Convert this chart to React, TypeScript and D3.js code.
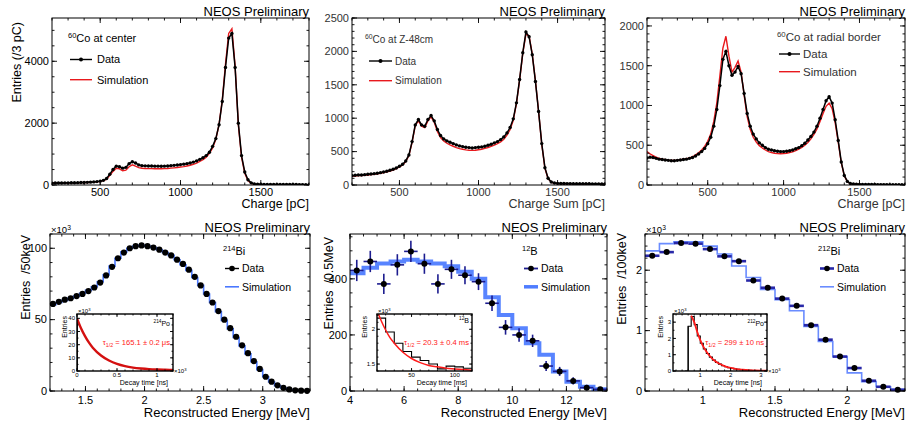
import React from "react";
import * as d3 from "d3";

const FONT = "'Liberation Sans', Arial, Helvetica, sans-serif";

// ---- top row: 60Co charge spectra, entries per 3 pC read every 20 pC
const CHARGE_STEP = 20;

const coCenterData = [
  62, 64, 65, 66, 68, 70, 72, 74, 76, 79, 82, 86, 92, 100, 110, 125,
  150, 210, 350, 500, 610, 590, 545, 570, 690, 750, 710, 650, 625, 620, 615, 615, 610, 610, 605, 610, 615, 625, 635, 645, 660,
  675, 690, 710, 740, 780, 830, 880, 950, 1060, 1250, 1500, 1950, 2700, 3800, 4750, 4900, 3800, 2000, 950, 420, 170, 70, 35, 25, 22,
  20, 19, 18, 18, 17, 16, 16, 15, 15, 14, 14, 13, 13, 12, 12,
];
const coCenterSim = [
  58, 60, 62, 63, 65, 67, 69, 71, 73, 76, 79, 83, 88, 95, 105, 118,
  140, 190, 310, 440, 540, 520, 460, 480, 590, 650, 610, 560, 540, 535, 530, 530, 525, 525, 525, 530, 535, 545, 555, 565, 580,
  595, 615, 640, 670, 710, 760, 820, 900, 1020, 1200, 1480, 1950, 2750, 3900, 4900, 5050, 3850, 1950, 900, 380, 140, 55, 25, 16, 13,
  12, 11, 11, 10, 10, 10, 9, 9, 9, 8, 8, 8, 8, 7, 7,
];
const coZData = [
  140, 145, 150, 150, 155, 160, 165, 170, 175, 185, 195, 205, 220, 235, 255, 280,
  310, 360, 450, 650, 900, 980, 900, 880, 980, 1040, 960, 830, 740, 690, 660, 640, 620, 600, 585, 575, 565, 560, 555, 560, 565,
  570, 580, 595, 610, 630, 650, 680, 720, 780, 860, 990, 1230, 1580, 1980, 2290, 2220, 1950, 1550, 1100, 620, 260, 100, 45, 30, 25,
  23, 22, 21, 21, 20, 20, 19, 19, 18, 18, 17, 17, 16, 16, 15,
];
const coZSim = [
  130, 135, 140, 142, 146, 150, 155, 160, 166, 175, 185, 196, 210, 225, 245, 270,
  300, 350, 440, 640, 890, 960, 880, 860, 960, 1020, 940, 800, 710, 660, 625, 600, 580, 560, 545, 535, 525, 520, 518, 520, 528,
  535, 548, 562, 578, 598, 618, 645, 685, 745, 830, 970, 1220, 1570, 1970, 2260, 2230, 1960, 1560, 1100, 610, 250, 95, 42, 27, 22,
  20, 19, 18, 18, 17, 17, 16, 16, 15, 15, 14, 14, 13, 13, 12,
];
// radial border run starts at 100 pC
const coBorderData = [
  340, 350, 345, 335, 325, 320, 315, 310, 305, 305, 310, 315, 320, 325, 335, 345, 365, 390, 420, 460, 520,
  600, 740, 950, 1250, 1580, 1680, 1500, 1380, 1420, 1490, 1400, 1150, 900, 740, 640, 580, 530, 500, 470, 450, 440, 430, 425, 420, 420,
  425, 430, 440, 455, 470, 495, 525, 565, 610, 665, 740, 840, 950, 1060, 1110, 1030, 820, 560, 290, 120, 45, 20, 12, 9, 8,
  7, 7, 6, 6, 6, 5, 5, 5, 5, 4, 4, 4, 4, 4, 3,
];
const coBorderSim = [
  420, 390, 370, 350, 335, 325, 318, 312, 308, 308, 312, 318, 325, 332, 342, 355, 378, 405, 440, 485, 550,
  640, 800, 1030, 1370, 1720, 1870, 1620, 1420, 1480, 1560, 1420, 1130, 860, 700, 600, 540, 495, 465, 440, 420, 408, 400, 395, 393, 395,
  400, 408, 418, 432, 450, 472, 500, 535, 580, 635, 705, 800, 900, 990, 1030, 960, 780, 540, 280, 115, 42, 18, 10, 7, 6,
  5, 5, 5, 4, 4, 4, 4, 3, 3, 3, 3, 3, 3, 2, 2,
];

// ---- 214Bi prompt spectrum, 50 keV bins from 1.2 MeV (x10^3 entries)
const bi214Data = [
  61, 62.5, 64, 65, 66.5, 68, 70, 72.5, 76, 81, 87, 93, 97, 100, 101.5, 102, 101.5, 100.5, 99, 97, 95, 92,
  89, 85, 80, 74, 68, 62, 56, 50, 44, 38, 32, 26.5, 21, 15.5, 10, 6.5, 4, 2.2, 1.1, 0.5, 0.2, 0.1,
];
const bi214Sim = [
  60.5, 62, 63.5, 65, 66.5, 68.5, 70.5, 73, 76.5, 81.5, 87.5, 93, 97.5, 100, 101.5, 102, 101.5, 100.5, 99, 97, 95, 92,
  88.5, 84.5, 79.5, 74, 68, 62, 55.5, 49.5, 43.5, 37.5, 31.5, 26, 20.5, 15, 10, 6.3, 3.8, 2.1, 1.0, 0.5, 0.2, 0.1,
];
const po214FitT = [0, 0.05, 0.1, 0.15, 0.2, 0.3, 0.4, 0.5, 0.6, 0.7, 0.8, 0.9, 1.0, 1.1, 1.2];
const po214FitV = [40, 32.5, 26.5, 21.5, 17.5, 11.8, 8, 5.4, 3.7, 2.6, 1.9, 1.4, 1.1, 0.9, 0.8];

// ---- 12B spectrum, 0.5 MeV bins from 4 MeV
const b12Data = [430, 462, 382, 450, 498, 454, 382, 434, 413, 390, 313, 227, 200, 179, 89, 70, 36, 12, 6];
const b12Err = [38, 38, 36, 38, 38, 36, 34, 34, 32, 30, 28, 26, 24, 22, 18, 16, 13, 10, 8];
const b12Sim = [420, 440, 455, 462, 468, 462, 455, 445, 425, 400, 334, 271, 224, 170, 129, 70, 33, 15, 6];
const b12Decay = [2.16, 1.96, 1.8, 1.68, 1.6, 1.55, 1.5, 1.43, 1.47, 1.46, 1.44]; // 10 ms bins from 10 ms
const b12FitT = [10, 15, 20, 25, 30, 40, 50, 60, 70, 80, 90, 100, 110, 120];
const b12FitV = [2.27, 2.12, 1.99, 1.88, 1.8, 1.67, 1.58, 1.52, 1.48, 1.46, 1.44, 1.43, 1.42, 1.41];

// ---- 212Bi spectrum, 100 keV bins from 0.6 MeV (x10^3 entries)
const bi212Data = [2.24, 2.3, 2.45, 2.44, 2.35, 2.23, 2.15, 1.83, 1.71, 1.53, 1.41, 1.09, 0.85, 0.57, 0.38, 0.17, 0.07, 0.02];
const bi212Sim = [2.32, 2.44, 2.47, 2.47, 2.4, 2.27, 2.07, 1.88, 1.68, 1.51, 1.33, 1.07, 0.82, 0.57, 0.3, 0.155, 0.07, 0.03];
const po212Hist = [
  0, 2.75, 3.35, 2.85, 2.15, 1.7, 1.35, 1.07, 0.85, 0.67, 0.53, 0.42, 0.33, 0.26, 0.21, 0.17,
  0.13, 0.1, 0.08, 0.06, 0.05, 0.04, 0.03, 0.03, 0.02, 0.02, 0.02,
]; // 0.1 bins from 0.5
const po212FitT = [0.7, 0.8, 0.9, 1.0, 1.1, 1.2, 1.3, 1.4, 1.5, 1.6, 1.8, 2.0, 2.2, 2.4, 2.6, 2.8, 3.0, 3.2];
const po212FitV = [3.4, 3.0, 2.4, 1.9, 1.5, 1.2, 0.95, 0.75, 0.6, 0.47, 0.3, 0.19, 0.12, 0.08, 0.05, 0.03, 0.02, 0.015];

type Lin = d3.ScaleLinear<number, number>;

function ticksIn(d: number[], step: number) {
  const out: number[] = [];
  const k0 = Math.ceil(d[0] / step - 1e-6);
  for (let k = k0; k * step <= d[1] + 1e-6; k++) out.push(+(k * step).toFixed(6));
  return out;
}

function stepPath(x: Lin, y: Lin, e0: number, w: number, vals: number[]) {
  let p = "";
  vals.forEach((v, i) => {
    const xa = x(e0 + i * w), xb = x(e0 + (i + 1) * w), yy = y(v);
    p += `${i === 0 ? "M" : "L"}${xa},${yy}L${xb},${yy}`;
  });
  return p;
}

function Frame({ x, y, xMajor, xMinor, yMajor, yMinor, tick, font, color = "#000", xGap, yGap, fill = "none", border = 1 }: any) {
  const [l, r] = x.range();
  const [b, t] = y.range();
  const xMaj = ticksIn(x.domain(), xMajor), xMin = ticksIn(x.domain(), xMinor);
  const yMaj = ticksIn(y.domain(), yMajor), yMin = ticksIn(y.domain(), yMinor);
  const seg = (k: string, x1: number, y1: number, x2: number, y2: number) => (
    <line key={k} x1={x1} y1={y1} x2={x2} y2={y2} stroke="#000" strokeWidth={0.9} />
  );
  return (
    <g>
      <rect x={l} y={t} width={r - l} height={b - t} fill={fill} stroke="#000" strokeWidth={border} />
      {xMin.map((v) => [seg("xb" + v, x(v), b, x(v), b - tick / 2), seg("xt" + v, x(v), t, x(v), t + tick / 2)])}
      {xMaj.map((v) => [seg("XB" + v, x(v), b, x(v), b - tick), seg("XT" + v, x(v), t, x(v), t + tick)])}
      {yMin.map((v) => [seg("yl" + v, l, y(v), l + tick / 2, y(v)), seg("yr" + v, r, y(v), r - tick / 2, y(v))])}
      {yMaj.map((v) => [seg("YL" + v, l, y(v), l + tick, y(v)), seg("YR" + v, r, y(v), r - tick, y(v))])}
      <g fontSize={font} fill={color}>
        {xMaj.map((v) => (
          <text key={"xl" + v} x={x(v)} y={b + xGap} textAnchor="middle">{String(v)}</text>
        ))}
        {yMaj.map((v) => (
          <text key={"yl" + v} x={l - yGap} y={y(v) + font * 0.35} textAnchor="end">{String(v)}</text>
        ))}
      </g>
    </g>
  );
}

function Sup({ x, y, a, s, f, anchor = "start", fill = "#000" }: any) {
  return (
    <text x={x} y={y} fontSize={f} textAnchor={anchor} fill={fill}>
      <tspan fontSize={f * 0.68} dy={-f * 0.38}>{a}</tspan>
      <tspan dy={f * 0.38}>{s}</tspan>
    </text>
  );
}

function Times({ x, y, f, anchor = "start" }: any) {
  return (
    <text x={x} y={y} fontSize={f} textAnchor={anchor}>
      ×10<tspan fontSize={f * 0.7} dy={-f * 0.35}>3</tspan>
    </text>
  );
}

function Tau({ x, y, f, rest }: any) {
  return (
    <text x={x} y={y} fontSize={f} fill="#ff2020" textAnchor="end">
      τ<tspan fontSize={f * 0.7} dy={f * 0.3}>1/2</tspan>
      <tspan dy={-f * 0.3}>{" = " + rest}</tspan>
    </text>
  );
}

function Title({ right, y }: { right: number; y: number }) {
  return <text x={right} y={y} fontSize={13} textAnchor="end">NEOS Preliminary</text>;
}

function ChargePanel({ id, left, right, x0, yMax, yMajor, yMinor, data, sim, xTitle, color, yTitle, lg }: any) {
  const top = 18, bottom = 185;
  const x = d3.scaleLinear().domain([x0, 1800]).range([left, right]);
  const y = d3.scaleLinear().domain([0, yMax]).range([bottom, top]);
  const line = d3.line<number>().x((_, i) => x(x0 + i * CHARGE_STEP)).y((v) => y(v));
  return (
    <g>
      <Title right={right} y={16} />
      <defs>
        <clipPath id={id}><rect x={left} y={top} width={right - left} height={bottom - top} /></clipPath>
      </defs>
      <g clipPath={`url(#${id})`}>
        <path d={line(sim) || ""} fill="none" stroke="#e8191d" strokeWidth={1.4} />
        <path d={line(data) || ""} fill="none" stroke="#000" strokeWidth={1.5} />
        {data.map((v: number, i: number) => (
          <circle key={i} cx={x(x0 + i * CHARGE_STEP)} cy={y(v)} r={1.7} fill="#000" />
        ))}
      </g>
      <Frame x={x} y={y} xMajor={500} xMinor={100} yMajor={yMajor} yMinor={yMinor} tick={5} font={11} color={color} xGap={11} yGap={3} />
      <text x={right} y={207.5} fontSize={12.5} textAnchor="end" fill={color}>{xTitle}</text>
      {yTitle && (
        <text transform="translate(21,22) rotate(-90)" fontSize={12.5} textAnchor="end">{yTitle}</text>
      )}
      <Sup x={lg.tx0} y={lg.ty} a="60" s={lg.title} f={lg.f} fill={color} />
      <line x1={lg.lx0} x2={lg.lx1} y1={lg.dy} y2={lg.dy} stroke="#000" strokeWidth={1.4} />
      <circle cx={(lg.lx0 + lg.lx1) / 2} cy={lg.dy} r={2} fill="#000" />
      <text x={lg.tx} y={lg.dy + lg.f * 0.36} fontSize={lg.f} fill={color}>Data</text>
      <line x1={lg.lx0} x2={lg.lx1} y1={lg.sy} y2={lg.sy} stroke="#e8191d" strokeWidth={1.4} />
      <text x={lg.tx} y={lg.sy + lg.f * 0.36} fontSize={lg.f} fill={color}>Simulation</text>
    </g>
  );
}

function Inset({ left, right, xd, yd, xMajor, xMinor, yMajor, yMinor, xTimes, xTitle, iso, tau, children }: any) {
  const top = 314, bottom = 371;
  const x = d3.scaleLinear().domain(xd).range([left, right]);
  const y = d3.scaleLinear().domain(yd).range([bottom, top]);
  const id = "clip" + left;
  return (
    <g>
      <rect x={left} y={top} width={right - left} height={bottom - top} fill="#fff" />
      <defs>
        <clipPath id={id}><rect x={left} y={top} width={right - left} height={bottom - top} /></clipPath>
      </defs>
      <g clipPath={`url(#${id})`}>{children(x, y)}</g>
      <Frame x={x} y={y} xMajor={xMajor} xMinor={xMinor} yMajor={yMajor} yMinor={yMinor} tick={3} font={6} xGap={6.3} yGap={2} border={1.4} />
      <Times x={left + 1} y={top - 1} f={6} />
      {xTimes && <Times x={right + 1} y={bottom + 2} f={6} />}
      <text transform={`translate(${left - 10},${top + 2}) rotate(-90)`} fontSize={7} textAnchor="end">Entries</text>
      <text x={right - 5} y={384.5} fontSize={7} textAnchor="end">{xTitle}</text>
      <Sup x={right - 3} y={iso.y} a={iso.a} s={iso.s} f={7} anchor="end" />
      <Tau x={right - 3} y={344.5} f={7.6} rest={tau} />
    </g>
  );
}

function BottomLegend({ iso, x, lineColor, simColor, simW, dataBar }: any) {
  const lx0 = x + 2, lx1 = x + 16, tx = x + 19;
  return (
    <g fontSize={10.5}>
      <Sup x={x} y={255} a={iso.a} s={iso.s} f={11} />
      <line x1={lx0} x2={lx1} y1={268.5} y2={268.5} stroke={lineColor} strokeWidth={dataBar} />
      <circle cx={(lx0 + lx1) / 2} cy={268.5} r={2.8} fill="#000" />
      <text x={tx} y={272.3}>Data</text>
      <line x1={lx0} x2={lx1} y1={286.8} y2={286.8} stroke={simColor} strokeWidth={simW} />
      <text x={tx} y={290.5}>Simulation</text>
    </g>
  );
}

function Bi214Panel() {
  const left = 50, right = 310, top = 234, bottom = 391;
  const x = d3.scaleLinear().domain([1.2, 3.4]).range([left, right]);
  const y = d3.scaleLinear().domain([0, 110]).range([bottom, top]);
  return (
    <g>
      <Title right={310} y={231.5} />
      <path d={stepPath(x, y, 1.2, 0.05, bi214Sim)} fill="none" stroke="#4a78ff" strokeWidth={1.6} />
      {bi214Data.map((v, i) => (
        <circle key={i} cx={x(1.225 + i * 0.05)} cy={y(v)} r={3.1} fill="#000" />
      ))}
      <Inset left={77} right={173} xd={[0, 1.2]} yd={[0, 43.3]} xMajor={0.5} xMinor={0.1} yMajor={10} yMinor={5}
        xTimes xTitle="Decay time [ns]" iso={{ a: "214", s: "Po", y: 326 }} tau="165.1 ± 0.2 μs">
        {(ix: Lin, iy: Lin) => {
          const ln = d3.line<number>().x((_, i) => ix(po214FitT[i])).y((v) => iy(v)).curve(d3.curveMonotoneX);
          return (
            <g>
              <line x1={ix(0.005)} x2={ix(0.005)} y1={iy(0)} y2={iy(40)} stroke="#000" strokeWidth={1} />
              <path d={ln(po214FitV) || ""} fill="none" stroke="#d41010" strokeWidth={2.4} />
            </g>
          );
        }}
      </Inset>
      <Frame x={x} y={y} xMajor={0.5} xMinor={0.1} yMajor={50} yMinor={10} tick={5} font={11} xGap={12.5} yGap={3} />
      <Times x={51} y={233} f={9.5} />
      <text x={310} y={416.5} fontSize={13} textAnchor="end">Reconstructed Energy [MeV]</text>
      <text transform="translate(29.5,235) rotate(-90)" fontSize={12.5} textAnchor="end">{"Entries\u00a0\u00a0/50keV"}</text>
      <BottomLegend iso={{ a: "214", s: "Bi" }} x={223} lineColor="#000" dataBar={1.4} simColor="#4a78ff" simW={1.6} />
    </g>
  );
}

function B12Panel() {
  const left = 350, right = 607, top = 234, bottom = 391;
  const x = d3.scaleLinear().domain([4, 13.5]).range([left, right]);
  const y = d3.scaleLinear().domain([0, 560]).range([bottom, top]);
  return (
    <g>
      <Title right={607} y={231.5} />
      <defs>
        <clipPath id="b12clip"><rect x={left} y={top} width={right - left} height={bottom - top} /></clipPath>
      </defs>
      <g clipPath="url(#b12clip)">
        <path d={stepPath(x, y, 4, 0.5, b12Sim)} fill="none" stroke="#4f7dff" strokeWidth={4} opacity={0.95} />
        {b12Data.map((v, i) => {
          const c = 4.25 + i * 0.5;
          return (
            <g key={i} stroke="#1c1c8f" strokeWidth={1.6}>
              <line x1={x(c - 0.25)} x2={x(c + 0.25)} y1={y(v)} y2={y(v)} />
              <line x1={x(c)} x2={x(c)} y1={y(v - b12Err[i])} y2={y(v + b12Err[i])} />
              <circle cx={x(c)} cy={y(v)} r={3} fill="#000" stroke="none" />
            </g>
          );
        })}
      </g>
      <Inset left={377} right={472} xd={[10, 120]} yd={[1.4, 2.22]} xMajor={50} xMinor={10} yMajor={0.5} yMinor={0.1}
        xTimes={false} xTitle="Decay time [ms]" iso={{ a: "12", s: "B", y: 323 }} tau="20.3 ± 0.4 ms">
        {(ix: Lin, iy: Lin) => {
          const ln = d3.line<number>().x((_, i) => ix(b12FitT[i])).y((v) => iy(v)).curve(d3.curveMonotoneX);
          return (
            <g>
              <path d={stepPath(ix, iy, 10, 10, b12Decay)} fill="none" stroke="#000" strokeWidth={1.1} />
              <path d={ln(b12FitV) || ""} fill="none" stroke="#ff1a1a" strokeWidth={1.5} />
            </g>
          );
        }}
      </Inset>
      <Frame x={x} y={y} xMajor={2} xMinor={0.5} yMajor={200} yMinor={50} tick={5} font={11} xGap={12.5} yGap={3} />
      <text x={607} y={416.5} fontSize={13} textAnchor="end">Reconstructed Energy [MeV]</text>
      <text transform="translate(332.5,237) rotate(-90)" fontSize={12.5} textAnchor="end">{"Entries\u00a0\u00a0/0.5MeV"}</text>
      <BottomLegend iso={{ a: "12", s: "B" }} x={522} lineColor="#1c1c8f" dataBar={1.8} simColor="#4f7dff" simW={3.5} />
    </g>
  );
}

function Bi212Panel() {
  const left = 645, right = 905, top = 234, bottom = 391;
  const x = d3.scaleLinear().domain([0.6, 2.4]).range([left, right]);
  const y = d3.scaleLinear().domain([0, 2.6]).range([bottom, top]);
  return (
    <g>
      <Title right={905} y={231.5} />
      <path d={stepPath(x, y, 0.6, 0.1, bi212Sim)} fill="none" stroke="#6a8cff" strokeWidth={1.6} />
      {bi212Data.map((v, i) => {
        const c = 0.65 + i * 0.1;
        return (
          <g key={i}>
            <line x1={x(c - 0.05)} x2={x(c + 0.05)} y1={y(v)} y2={y(v)} stroke="#2828a8" strokeWidth={2.6} />
            <circle cx={x(c)} cy={y(v)} r={3} fill="#000" />
          </g>
        );
      })}
      <Inset left={673} right={767} xd={[0.1, 3.2]} yd={[0, 3.5]} xMajor={1} xMinor={0.2} yMajor={1} yMinor={0.5}
        xTimes xTitle="Decay time [ns]" iso={{ a: "212", s: "Po", y: 326 }} tau="299 ± 10 ns">
        {(ix: Lin, iy: Lin) => {
          const ln = d3.line<number>().x((_, i) => ix(po212FitT[i])).y((v) => iy(v)).curve(d3.curveMonotoneX);
          return (
            <g>
              <path d={stepPath(ix, iy, 0.5, 0.1, po212Hist)} fill="none" stroke="#000" strokeWidth={1.1} />
              <line x1={ix(0.6)} x2={ix(0.6)} y1={iy(0)} y2={iy(2.75)} stroke="#000" strokeWidth={1.1} />
              <path d={ln(po212FitV) || ""} fill="none" stroke="#ff1a1a" strokeWidth={1.8} />
            </g>
          );
        }}
      </Inset>
      <Frame x={x} y={y} xMajor={0.5} xMinor={0.1} yMajor={1} yMinor={0.2} tick={5} font={11} xGap={12.5} yGap={3} />
      <Times x={646} y={233} f={9.5} />
      <text x={905} y={416.5} fontSize={13} textAnchor="end">Reconstructed Energy [MeV]</text>
      <text transform="translate(626,233) rotate(-90)" fontSize={12.5} textAnchor="end">{"Entries\u00a0\u00a0/100keV"}</text>
      <BottomLegend iso={{ a: "212", s: "Bi" }} x={818} lineColor="#2828a8" dataBar={2.6} simColor="#6a8cff" simW={1.6} />
    </g>
  );
}

export default function App() {
  return (
    <svg width={906} height={425} viewBox="0 0 906 425" fontFamily={FONT}
      style={{ position: "absolute", left: 0, top: 0, background: "#fff" }}>
      <ChargePanel id="c1" left={52} right={309} x0={200} yMax={5400} yMajor={2000} yMinor={500}
        data={coCenterData} sim={coCenterSim} xTitle="Charge [pC]" color="#000" yTitle="Entries (/3 pC)"
        lg={{ title: "Co at center", tx0: 68, ty: 42, f: 11, lx0: 70, lx1: 92, tx: 97, dy: 59.5, sy: 79.7 }} />
      <ChargePanel id="c2" left={352} right={605} x0={200} yMax={2500} yMajor={500} yMinor={100}
        data={coZData} sim={coZSim} xTitle="Charge Sum [pC]" color="#333"
        lg={{ title: "Co at Z-48cm", tx0: 365, ty: 43, f: 10, lx0: 369, lx1: 392, tx: 395, dy: 61, sy: 80.7 }} />
      <ChargePanel id="c3" left={647} right={905} x0={100} yMax={2100} yMajor={500} yMinor={100}
        data={coBorderData} sim={coBorderSim} xTitle="Charge [pC]" color="#333"
        lg={{ title: "Co at radial border", tx0: 777, ty: 41, f: 11.5, lx0: 779, lx1: 800, tx: 803, dy: 54, sy: 71.7 }} />
      <Bi214Panel />
      <B12Panel />
      <Bi212Panel />
    </svg>
  );
}
